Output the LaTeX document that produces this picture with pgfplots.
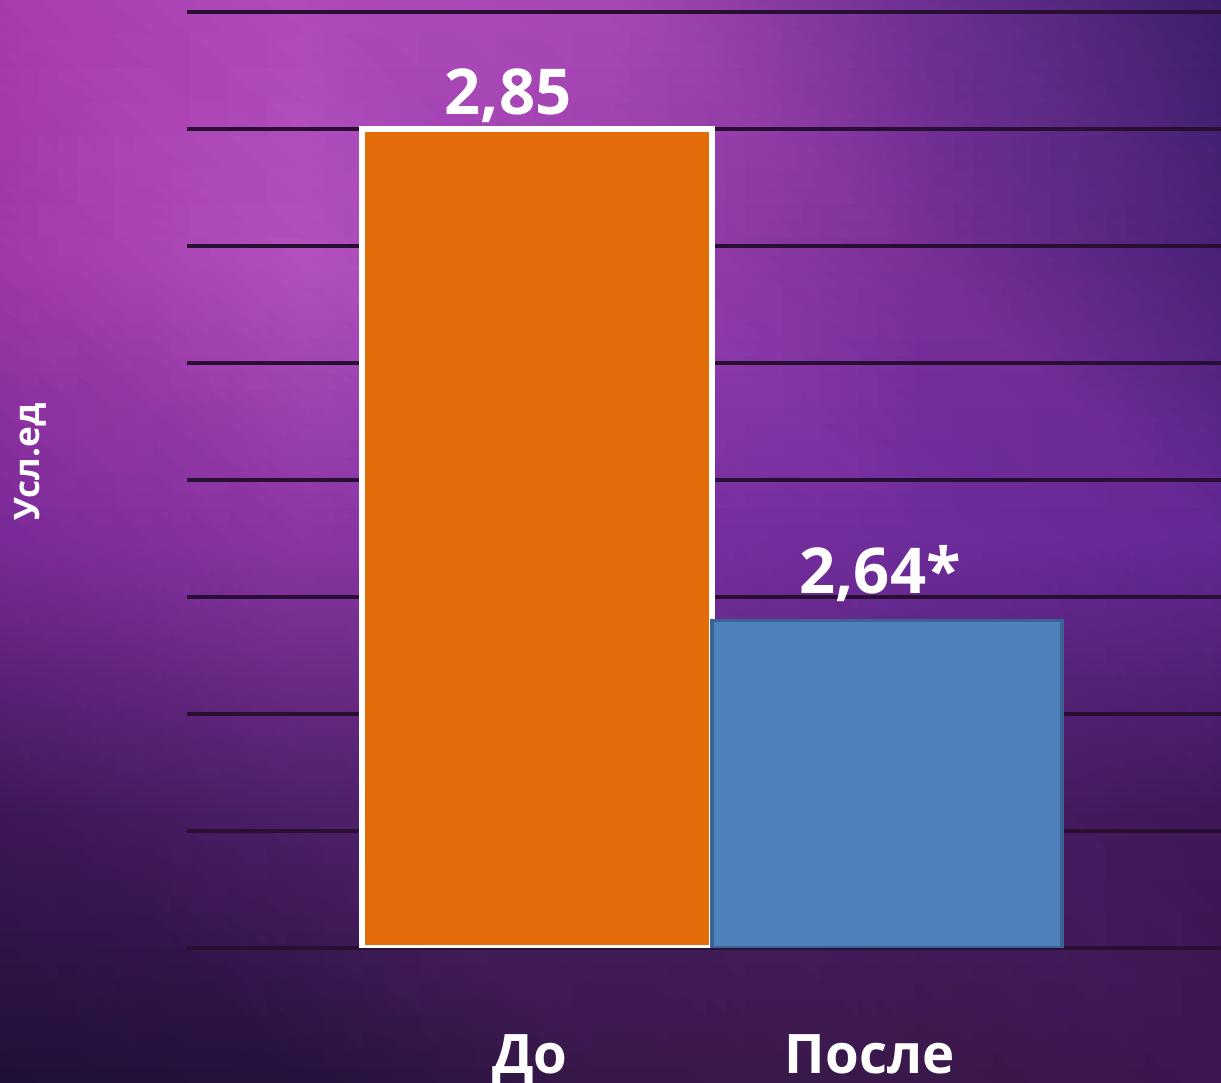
\documentclass[border=0pt]{standalone}
\usepackage{pgfplots}
\pgfplotsset{compat=1.18}
\usepackage{fontspec}
\setmainfont{Open Sans}
\definecolor{gridc}{HTML}{2A0F35}
\definecolor{orangec}{HTML}{E36C0A}
\definecolor{bluec}{HTML}{4F81BD}
\definecolor{blueb}{HTML}{3B6494}
\begin{document}
\begin{tikzpicture}
\useasboundingbox (0,0) rectangle (12.21,10.83);
% background gradient
\begin{axis}[
  at={(0,0)}, anchor=south west,
  scale only axis, width=12.21cm, height=10.83cm,
  xmin=0, xmax=1, ymin=0, ymax=1, zmin=-1, zmax=1,
  view={0}{90}, hide axis, enlargelimits=false,
]
\addplot3[surf, shader=interp, mesh/color input=explicit, mesh/cols=5] table[meta=c] {
x y z c
0 0 0 rgb255=32,16,56
0.25 0 0 rgb255=38,18,62
0.5 0 0 rgb255=56,24,74
0.75 0 0 rgb255=58,24,74
1 0 0 rgb255=59,22,80
0 0.25 0 rgb255=62,24,88
0.25 0.25 0 rgb255=78,32,104
0.5 0.25 0 rgb255=76,30,104
0.75 0.25 0 rgb255=74,30,102
1 0.25 0 rgb255=62,24,88
0 0.5 0 rgb255=122,42,152
0.25 0.5 0 rgb255=138,54,164
0.5 0.5 0 rgb255=122,48,160
0.75 0.5 0 rgb255=110,44,156
1 0.5 0 rgb255=100,40,148
0 0.75 0 rgb255=160,56,168
0.25 0.75 0 rgb255=178,80,190
0.5 0.75 0 rgb255=154,64,176
0.75 0.75 0 rgb255=122,48,152
1 0.75 0 rgb255=74,34,120
0 1 0 rgb255=166,58,172
0.25 1 0 rgb255=176,74,186
0.5 1 0 rgb255=168,72,180
0.75 1 0 rgb255=110,48,148
1 1 0 rgb255=60,31,107
};
\end{axis}
\begin{axis}[
  at={(1.87cm,1.35cm)}, anchor=south west,
  scale only axis, width=10.34cm, height=9.36cm,
  xmin=-1, xmax=1.954, ymin=2.5, ymax=2.9,
  ytick={2.5,2.55,2.6,2.65,2.7,2.75,2.8,2.85,2.9},
  yticklabels={}, major tick length=0pt,
  xtick=\empty,
  ymajorgrids, grid style={line width=1.1pt, color=gridc},
  axis line style={draw=none},
  clip mode=individual,
]
\addplot[ybar, bar shift=0pt, bar width=3.5cm, fill=orangec, draw=white, line width=1.5pt] coordinates {(0,2.85)};
\addplot[ybar, bar shift=0pt, bar width=3.5cm, fill=bluec, draw=blueb, line width=1pt] coordinates {(1,2.64)};
\node[anchor=base, text=white, font=\bfseries\fontsize{18}{20}\selectfont, yshift=4pt] at (axis cs:-0.083,2.85) {2,85};
\node[anchor=base, text=white, font=\bfseries\fontsize{18}{20}\selectfont, yshift=7.7pt] at (axis cs:0.98,2.64) {2,64*};
\node[anchor=base, text=white, font=\bfseries\fontsize{15.5}{18}\selectfont, yshift=-1.26cm] at (axis cs:-0.02,2.5) {До};
\node[anchor=base, text=white, font=\bfseries\fontsize{15.5}{18}\selectfont, yshift=-1.26cm] at (axis cs:0.95,2.5) {После};
\end{axis}
\node[rotate=90, text=white, font=\bfseries\fontsize{10}{12}\selectfont] at (0.30,6.21) {Усл.ед};
\end{tikzpicture}
\end{document}
